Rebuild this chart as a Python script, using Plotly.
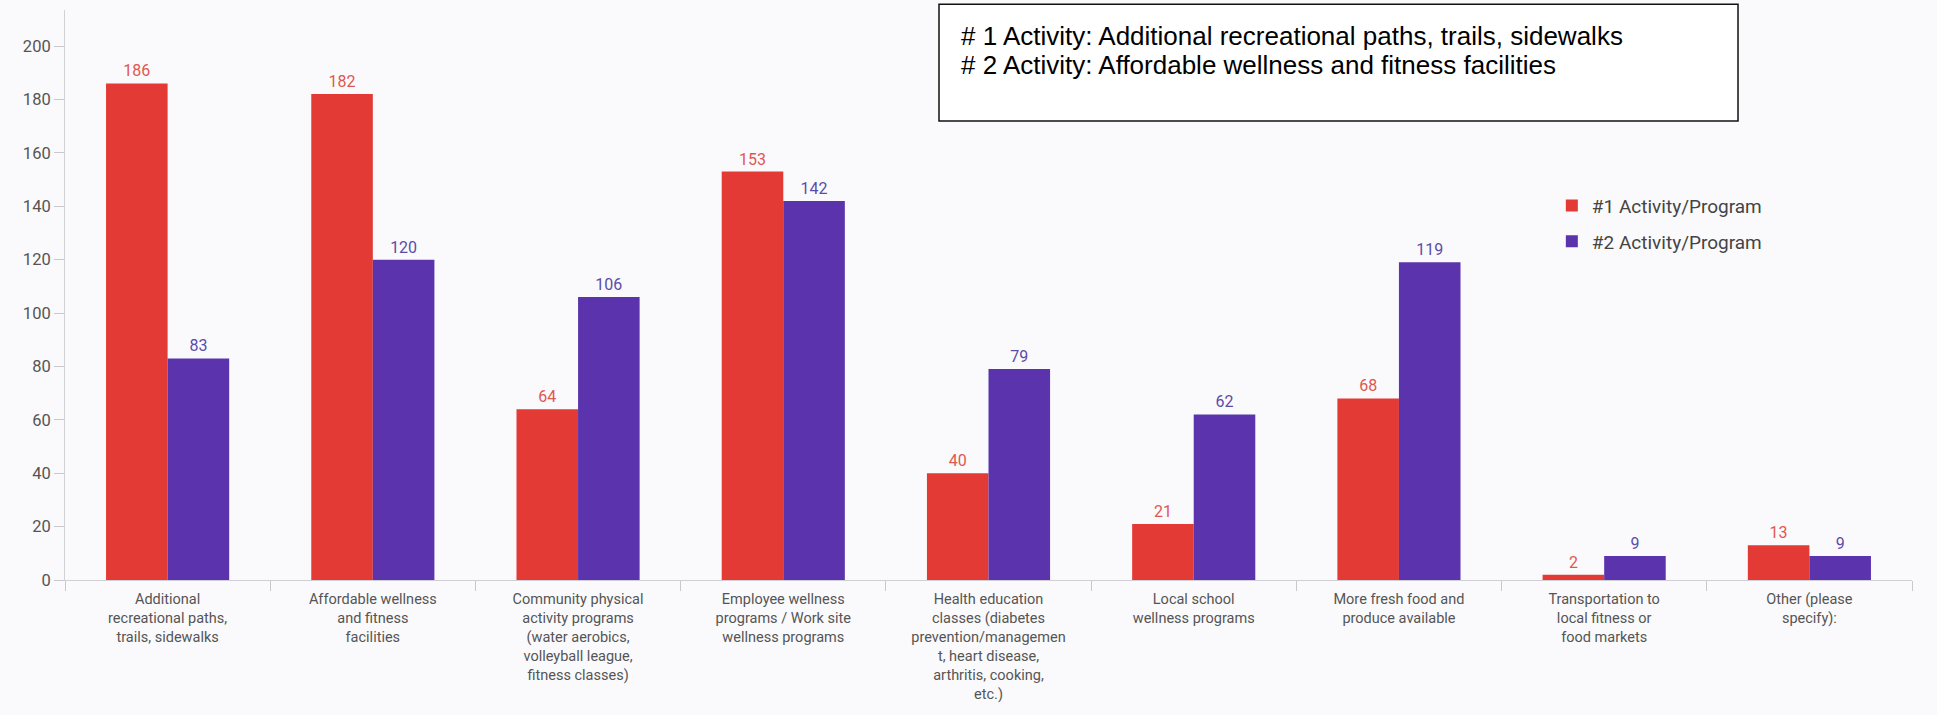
import plotly.graph_objects as go

categories = [
    "Additional<br>recreational paths,<br>trails, sidewalks",
    "Affordable wellness<br>and fitness<br>facilities",
    "Community physical<br>activity programs<br>(water aerobics,<br>volleyball league,<br>fitness classes)",
    "Employee wellness<br>programs / Work site<br>wellness programs",
    "Health education<br>classes (diabetes<br>prevention/managemen<br>t, heart disease,<br>arthritis, cooking,<br>etc.)",
    "Local school<br>wellness programs",
    "More fresh food and<br>produce available",
    "Transportation to<br>local fitness or<br>food markets",
    "Other (please<br>specify):",
]
first_choice = [186, 182, 64, 153, 40, 21, 68, 2, 13]
second_choice = [83, 120, 106, 142, 79, 62, 119, 9, 9]
series_names = ["#1 Activity/Program", "#2 Activity/Program"]
y_ticks = [0, 20, 40, 60, 80, 100, 120, 140, 160, 180, 200]
note_lines = [
    "# 1 Activity: Additional recreational paths, trails, sidewalks",
    "# 2 Activity: Affordable wellness and fitness facilities",
]

RED = "#e33a35"
PURPLE = "#5b34ad"
FONT = "Roboto, 'Open Sans', sans-serif"

fig = go.Figure()
fig.add_trace(go.Bar(
    x=categories, y=first_choice, name=series_names[0], legendgroup="a",
    marker=dict(color=RED, line=dict(width=0)),
    text=first_choice, textposition="outside",
    textfont=dict(color="#e0574f", size=16, family=FONT),
    cliponaxis=False,
))
fig.add_trace(go.Bar(
    x=categories, y=second_choice, name=series_names[1], legendgroup="b",
    marker=dict(color=PURPLE, line=dict(width=0)),
    text=second_choice, textposition="outside",
    textfont=dict(color="#5a4ca8", size=16, family=FONT),
    cliponaxis=False,
))

fig.update_layout(
    width=1937, height=715,
    barmode="group", bargap=0.4, bargroupgap=0,
    paper_bgcolor="#fafafc", plot_bgcolor="#fafafc",
    margin=dict(l=65, r=25, t=10, b=135),
    font=dict(family=FONT, color="#555555"),
    showlegend=True,
    legend=dict(
        x=0.805, y=0.69, xanchor="left", yanchor="top",
        bgcolor="rgba(0,0,0,0)",
        font=dict(size=19, color="#444444", family=FONT),
        itemwidth=30, tracegroupgap=8,
    ),
)
fig.update_yaxes(
    range=[0, 213.5], tickvals=y_ticks, showgrid=False, zeroline=False,
    showline=True, linecolor="#d0d0d6", linewidth=1,
    ticks="outside", ticklen=10, tickcolor="#c8c8ce",
    tickfont=dict(size=16.5, color="#555555", family=FONT),
)
fig.update_xaxes(
    showgrid=False, showline=True, linecolor="#cfcfd5", linewidth=1,
    ticks="outside", tickson="boundaries", ticklen=10, tickcolor="#c8c8ce",
    tickfont=dict(size=14.5, color="#555555", family=FONT),
    ticklabelstandoff=6,
    tickangle=0, range=[-0.5, 8.5],
)

fig.add_shape(
    type="rect", xref="paper", yref="paper",
    x0=0.4732, x1=0.9058, y0=0.8053, y1=1.01,
    line=dict(color="#111111", width=1.5), fillcolor="#ffffff", layer="above",
)
for line_text, ypos in zip(note_lines, [0.954, 0.9035]):
    fig.add_annotation(
        xref="paper", yref="paper", x=0.484, y=ypos,
        xanchor="left", yanchor="middle", align="left", showarrow=False,
        text=line_text,
        font=dict(family="'Liberation Sans', Arial, sans-serif", size=26, color="#000000"),
    )

fig.write_html("out.html", config={"displayModeBar": False},
               post_script="document.body.style.margin='0';")
